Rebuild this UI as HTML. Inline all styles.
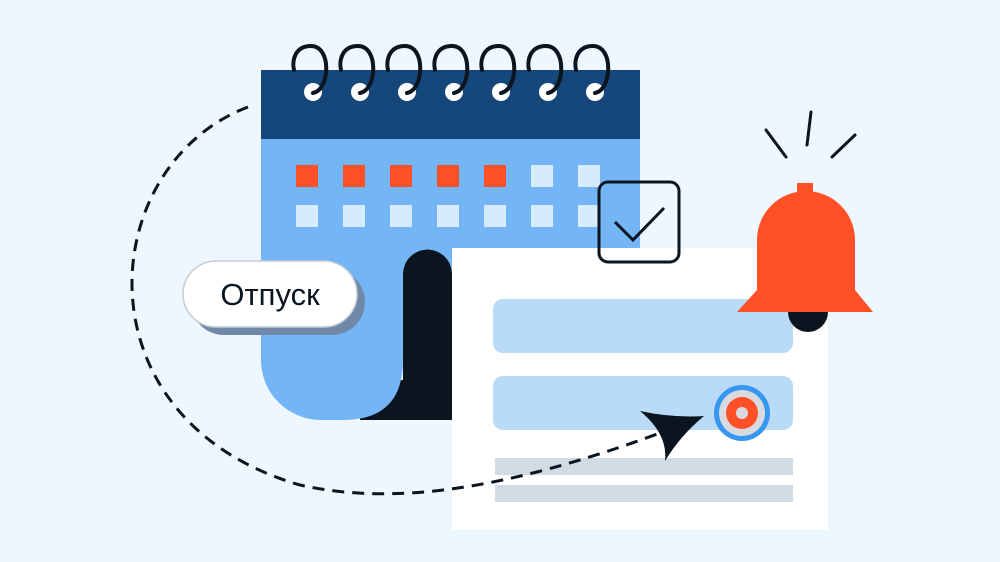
<!DOCTYPE html><html><head><meta charset="utf-8"><style>body{margin:0}svg{display:block}</style></head><body>
<svg width="1000" height="562" viewBox="0 0 1000 562" xmlns="http://www.w3.org/2000/svg">
<rect width="1000" height="562" fill="#eef6fe"/>
<path d="M360,420 L360,380 L403,380 L403,274 A24,24 0 0 1 452,274 L452,420 Z" fill="#0a1520"/>
<path d="M261,139 H640 V248 H452 V274 A24,24 0 0 0 403,274 V360 Q403,420 343,420 H321 A60,60 0 0 1 261,360 Z" fill="#74b6f5"/>
<rect x="261" y="70" width="379" height="69" fill="#16477a"/>
<g fill="#fff">
<circle cx="313" cy="92" r="9"/><circle cx="360" cy="92" r="9"/><circle cx="407" cy="92" r="9"/><circle cx="454" cy="92" r="9"/><circle cx="501" cy="92" r="9"/><circle cx="548" cy="92" r="9"/><circle cx="595" cy="92" r="9"/>
</g>
<g fill="none" stroke="#0a1520" stroke-width="4" stroke-linecap="round">
<path id="r" d="M313,93 C330,90 332,46 311,46 C294,46 292,62 294,70"/>
<use href="#r" x="47"/><use href="#r" x="94"/><use href="#r" x="141"/><use href="#r" x="188"/><use href="#r" x="235"/><use href="#r" x="282"/>
</g>
<g fill="#ff5028">
<rect x="296" y="165" width="22" height="22"/><rect x="343" y="165" width="22" height="22"/><rect x="390" y="165" width="22" height="22"/><rect x="437" y="165" width="22" height="22"/><rect x="484" y="165" width="22" height="22"/>
</g>
<g fill="#d6ecfc">
<rect x="531" y="165" width="22" height="22"/><rect x="578" y="165" width="22" height="22"/>
<rect x="296" y="205" width="22" height="22"/><rect x="343" y="205" width="22" height="22"/><rect x="390" y="205" width="22" height="22"/><rect x="437" y="205" width="22" height="22"/><rect x="484" y="205" width="22" height="22"/><rect x="531" y="205" width="22" height="22"/><rect x="578" y="205" width="22" height="22"/>
</g>
<rect x="452" y="248" width="376" height="282" fill="#fff"/>
<rect x="493" y="299" width="300" height="54" rx="10" fill="#b9dbf8"/>
<rect x="493" y="376" width="300" height="54" rx="10" fill="#b9dbf8"/>
<rect x="495" y="458" width="298" height="17" fill="#d2dbe4"/>
<rect x="495" y="485" width="298" height="17" fill="#d2dbe4"/>
<rect x="599" y="182" width="80" height="80" rx="9" fill="none" stroke="#0a1520" stroke-width="3"/>
<path d="M615,222 L633,240 L664,208" fill="none" stroke="#0a1520" stroke-width="3"/>
<rect x="191" y="269" width="174" height="66" rx="33" fill="#6f88a6"/>
<rect x="183" y="261" width="174" height="66" rx="33" fill="#fff" stroke="#c5ccd6" stroke-width="1.5"/>
<text x="270" y="305" text-anchor="middle" font-family="Liberation Sans, sans-serif" font-size="31" fill="#0a1520">Отпуск</text>
<path d="M248,107 C95,165 75,420 300,485 C390,505 500,492 660,433" fill="none" stroke="#0a1520" stroke-width="3" stroke-dasharray="12 8"/>
<circle cx="742" cy="413" r="28" fill="#3796f0"/>
<circle cx="742" cy="413" r="23" fill="#d7dbe0"/>
<circle cx="742" cy="413" r="16" fill="#ff5028"/>
<circle cx="742" cy="413" r="6" fill="#d7dbe0"/>
<path d="M640,411 Q672,418 704,416 Q680,436 665,461 Q668,434 640,411 Z" fill="#0a1520"/>
<rect x="797" y="183" width="16" height="12" fill="#ff5028"/>
<circle cx="808" cy="312" r="20" fill="#0a1520"/>
<path d="M757,290 V240 A49,49 0 0 1 855,240 V290 L873,312 H737 Z" fill="#ff5028"/>
<g stroke="#0a1520" stroke-width="3" stroke-linecap="round">
<line x1="766" y1="130" x2="786" y2="157"/><line x1="811" y1="112" x2="807" y2="145"/><line x1="855" y1="135" x2="832" y2="157"/>
</g>
</svg>
</body></html>
